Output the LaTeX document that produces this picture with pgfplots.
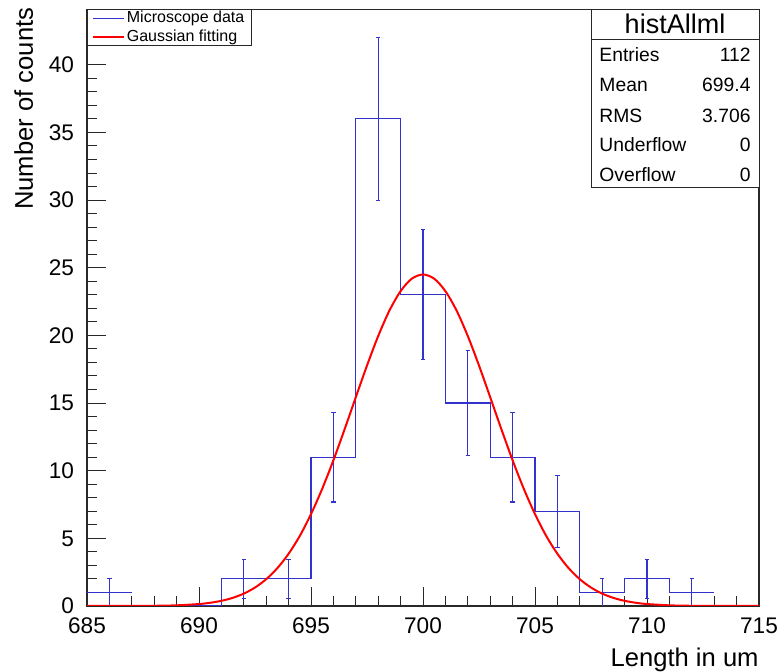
\documentclass[border=0pt]{standalone}
\usepackage{pgfplots}
\pgfplotsset{compat=1.18}
\usepackage{fontspec}
\setmainfont{Liberation Sans}
\definecolor{hblue}{RGB}{50,50,205}
\definecolor{fred}{RGB}{255,0,0}
\definecolor{frame}{RGB}{40,40,40}
\pgfplotsset{mylegend/.style={legend image code/.code={\draw[##1] (0pt,0pt) -- (15pt,0pt);}}}
\begin{document}
\begin{tikzpicture}
\useasboundingbox (-43.5pt,-33pt) rectangle (347pt,303pt);
\begin{axis}[
 at={(0,0)}, anchor=south west,
 scale only axis, width=336pt, height=298.35pt,
 xmin=685, xmax=715, ymin=0, ymax=44.1,
 xtick={685,690,...,715}, ytick={0,5,...,40},
 minor x tick num=4, minor y tick num=4,
 tick pos=left, tick align=inside,
 major tick length=9.5pt, minor tick length=4.8pt,
 axis line style={line width=0.6pt, frame},
 every tick/.style={frame, line width=0.5pt},
 /pgf/number format/assume math mode=true,
 ticklabel style={font=\fontsize{11.3}{13}\selectfont},
 xticklabel style={yshift=-2.2pt},
 yticklabel style={xshift=-3pt},
 xlabel={Length in um}, ylabel={Number of counts},
 label style={font=\fontsize{12.8}{15}\selectfont},
 xlabel style={at={([yshift=-30.5pt]rel axis cs:1,0)}, anchor=base east, inner sep=0pt},
 ylabel style={at={([xshift=-27pt,yshift=1pt]rel axis cs:0,1)}, anchor=base east, inner sep=0pt},
 legend style={at={(rel axis cs:0,1)}, anchor=north west, draw=frame, line width=0.5pt,
   font=\fontsize{8}{9}\selectfont, inner xsep=2.5pt, inner ysep=0.3pt, row sep=1.5pt,
   nodes={inner ysep=0.3pt, inner xsep=1.2pt}},
 legend cell align=left,
 unbounded coords=jump,
]
\addplot[const plot mark left, hblue, line width=0.55pt, mylegend]
 coordinates {(689,0) (691,2) (693,2) (695,11) (697,36) (699,23) (701,15) (703,11) (705,7) (707,1) (709,2) (711,1) (713,1)};
\addlegendentry{Microscope data}
\addplot[hblue, line width=0.55pt, forget plot] coordinates {(685,1) (687,1)};
% vertical error bars
\addplot[hblue, line width=0.55pt, forget plot] coordinates {
(686,0) (686,2) (686,nan)
(692,0.586) (692,3.414) (692,nan)
(694,0.586) (694,3.414) (694,nan)
(696,7.683) (696,14.317) (696,nan)
(698,30) (698,42) (698,nan)
(700,18.204) (700,27.796) (700,nan)
(702,11.127) (702,18.873) (702,nan)
(704,7.683) (704,14.317) (704,nan)
(706,4.354) (706,9.646) (706,nan)
(708,0) (708,2) (708,nan)
(710,0.586) (710,3.414) (710,nan)
(712,0) (712,2)};
% error bar caps
\addplot[hblue, line width=0.55pt, forget plot] coordinates {
(685.9,2) (686.1,2) (686,nan)
(691.9,0.586) (692.1,0.586) (692,nan) (691.9,3.414) (692.1,3.414) (692,nan)
(693.9,0.586) (694.1,0.586) (694,nan) (693.9,3.414) (694.1,3.414) (694,nan)
(695.9,7.683) (696.1,7.683) (696,nan) (695.9,14.317) (696.1,14.317) (696,nan)
(697.9,30) (698.1,30) (698,nan) (697.9,42) (698.1,42) (698,nan)
(699.9,18.204) (700.1,18.204) (700,nan) (699.9,27.796) (700.1,27.796) (700,nan)
(701.9,11.127) (702.1,11.127) (702,nan) (701.9,18.873) (702.1,18.873) (702,nan)
(703.9,7.683) (704.1,7.683) (704,nan) (703.9,14.317) (704.1,14.317) (704,nan)
(705.9,4.354) (706.1,4.354) (706,nan) (705.9,9.646) (706.1,9.646) (706,nan)
(707.9,2) (708.1,2) (708,nan)
(709.9,0.586) (710.1,0.586) (710,nan) (709.9,3.414) (710.1,3.414) (710,nan)
(711.9,2) (712.1,2)};
\addplot[fred, line width=1pt, smooth, mylegend]
 coordinates {(685,0) (687,0.004) (688,0.015) (689,0.049) (690,0.144) (690.5,0.238) (691,0.382) (691.5,0.599) (692,0.915) (692.5,1.363) (693,1.98) (693.5,2.80) (694,3.86) (694.5,5.18) (695,6.79) (695.5,8.66) (696,10.77) (696.5,13.06) (697,15.43) (697.5,17.77) (698,19.95) (698.5,21.83) (699,23.27) (699.5,24.19) (700,24.5) (700.5,24.19) (701,23.27) (701.5,21.83) (702,19.95) (702.5,17.77) (703,15.43) (703.5,13.06) (704,10.77) (704.5,8.66) (705,6.79) (705.5,5.18) (706,3.86) (706.5,2.80) (707,1.98) (707.5,1.363) (708,0.915) (708.5,0.599) (709,0.382) (709.5,0.238) (710,0.144) (711,0.049) (712,0.015) (713,0.004) (715,0)};
\addlegendentry{Gaussian fitting}
\draw[frame, line width=0.5pt, fill=white] (rel axis cs:0.751,0.702) rectangle (rel axis cs:1,1);
\draw[frame, line width=0.5pt] (rel axis cs:0.751,0.9502) -- (rel axis cs:1,0.9502);
\node[anchor=base, inner sep=0pt, font=\fontsize{13.5}{15}\selectfont] at (rel axis cs:0.875,0.9586) {histAllml};
\begin{scope}[every node/.style={inner sep=0pt, font=\fontsize{9.65}{11}\selectfont}]
\node[anchor=base west] at (rel axis cs:0.762,0.9117) {Entries};
\node[anchor=base east] at (rel axis cs:0.988,0.9117) {112};
\node[anchor=base west] at (rel axis cs:0.762,0.8614) {Mean};
\node[anchor=base east] at (rel axis cs:0.988,0.8614) {699.4};
\node[anchor=base west] at (rel axis cs:0.762,0.8111) {RMS};
\node[anchor=base east] at (rel axis cs:0.988,0.8111) {3.706};
\node[anchor=base west] at (rel axis cs:0.762,0.7625) {Underflow};
\node[anchor=base east] at (rel axis cs:0.988,0.7625) {0};
\node[anchor=base west] at (rel axis cs:0.762,0.7122) {Overflow};
\node[anchor=base east] at (rel axis cs:0.988,0.7122) {0};
\end{scope}
\end{axis}
\end{tikzpicture}
\end{document}
